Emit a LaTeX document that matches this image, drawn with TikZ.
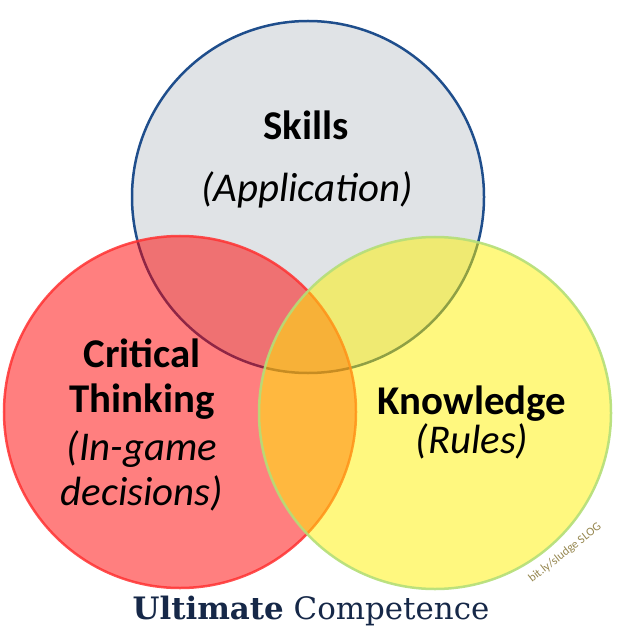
\documentclass[tikz,border=0pt]{standalone}
\usepackage{fontspec}
\setmainfont{Carlito}
\newfontfamily\titlefont{DejaVu Serif}
\usetikzlibrary{positioning}
\definecolor{discblue}{RGB}{31,78,140}
\definecolor{discin}{RGB}{224,227,230}
\definecolor{discmid}{RGB}{214,218,222}
\definecolor{discout}{RGB}{198,203,209}
\definecolor{redrim}{RGB}{255,50,50}
\definecolor{yelrim}{RGB}{180,222,120}
\definecolor{titlenavy}{RGB}{22,40,72}
\definecolor{slogolive}{RGB}{150,135,80}
\pgfdeclareradialshading{disc}{\pgfpoint{0bp}{0bp}}{%
  color(0bp)=(discin); color(28bp)=(discin); color(40bp)=(discmid);
  color(47bp)=(discmid); color(50bp)=(discout)}

\begin{document}
\begin{tikzpicture}[x=1bp, y=-1bp,
   ring/.style={circle, minimum size=352bp, inner sep=0pt, line width=2.5bp},
   head/.style={font=\fontsize{41}{45}\selectfont\bfseries, align=center,
                inner sep=0pt, anchor=base},
   sub/.style={font=\fontsize{41}{45}\selectfont\itshape, align=center,
               inner sep=0pt, anchor=base}]
  \useasboundingbox (0,0) rectangle (617,633);
  % the three discs
  \node[ring, draw=discblue, shading=disc] (skills) at (308,197) {};
  \node[ring, draw=redrim, draw opacity=0.85, fill=red, fill opacity=0.5] (critical) at (180,412) {};
  \node[ring, draw=yelrim, draw opacity=0.9, fill=yellow, fill opacity=0.5] (knowledge) at (435,413) {};
  % labels (base = last line)
  \node[head] (skillsname) at (306,140) {Skills};
  \node[sub] (skillsuse) at (307,201) {(Application)};
  \node[head] (criticalname) at (142,412) {Critical\\Thinking};
  \node[sub] (criticaluse) at (142,505) {(In-game\\decisions)};
  \node[head] (knowledgename) at (472,414) {Knowledge};
  \node[sub] (knowledgeuse) at (472,453) {(Rules)};
  % title and credit
  \node[font=\titlefont\fontsize{31}{36}\selectfont, text=titlenavy, anchor=base] (title) at (311,619)
    {\textbf{Ultimate} Competence};
  \node[rotate=38, font=\fontsize{12}{13}\selectfont, text=slogolive] (credit) at (565,553)
    {bit.ly/sludge SLOG};
\end{tikzpicture}
\end{document}
